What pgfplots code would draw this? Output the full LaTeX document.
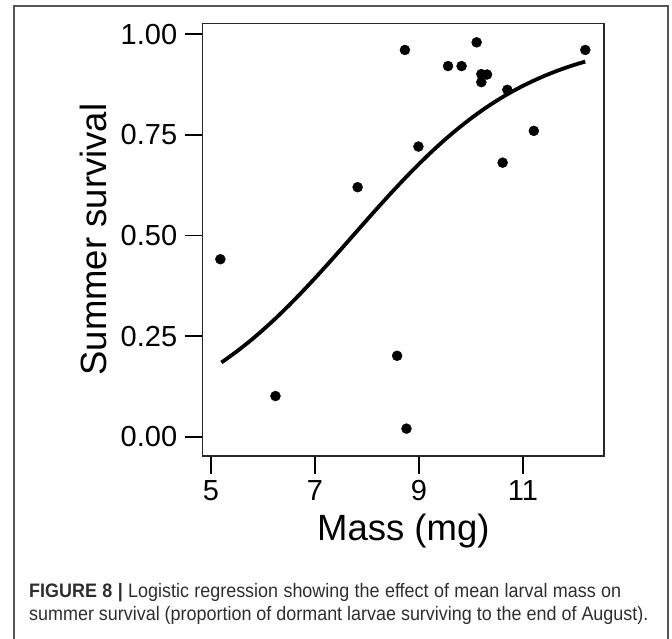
\documentclass[border=0pt]{standalone}
\usepackage{pgfplots}
\pgfplotsset{compat=1.18}
\usepackage{fontspec}
\setmainfont{Liberation Sans}
\newfontfamily\capfont[FakeStretch=0.92]{Liberation Sans}
\definecolor{framegray}{HTML}{555555}
\definecolor{captext}{HTML}{2E2E2E}
\begin{document}
\begin{tikzpicture}[x=1pt,y=1pt]
\useasboundingbox (0,0) rectangle (672,639);
\draw[framegray, line width=1.5pt] (14,-20) -- (14,633) -- (668,633) -- (668,-20);
\begin{axis}[
  scale only axis,
  width=401.3pt, height=432.7pt,
  at={(202.7pt,183pt)}, anchor=south west,
  xmin=4.84, xmax=12.56, ymin=-0.048, ymax=1.0273,
  xtick={5,7,9,11}, ytick={0,0.25,0.5,0.75,1},
  yticklabels={0.00,0.25,0.50,0.75,1.00},
  tick pos=left, tick align=outside,
  major tick length=18pt,
  tick style={line width=1.8pt, black},
  axis line style={line width=1.3pt, black!85},
  /pgf/number format/assume math mode=true,
  ticklabel style={font=\fontsize{29}{34}\selectfont},
  xticklabel style={yshift=-3pt},
  yticklabel style={xshift=-4pt},
  xlabel={Mass (mg)}, ylabel={Summer survival},
  label style={font=\fontsize{36.5}{42}\selectfont},
  xlabel style={at={(axis description cs:0.5,0)}, anchor=base, yshift=-84.7pt},
  ylabel style={at={(axis description cs:0,0.5)}, anchor=base, yshift=96pt},
  clip=false,
]
\addplot[black, line width=3.8pt, smooth] coordinates {
(5.20,0.1843) (5.50,0.2123) (5.75,0.2378) (6.00,0.2654) (6.25,0.2950)
(6.50,0.3264) (6.75,0.3595) (7.00,0.3939) (7.25,0.4294) (7.50,0.4657)
(7.75,0.5023) (8.00,0.5389) (8.25,0.5751) (8.50,0.6105) (8.75,0.6448)
(9.00,0.6776) (9.25,0.7088) (9.50,0.7382) (9.75,0.7655) (10.00,0.7908)
(10.25,0.8141) (10.50,0.8353) (10.75,0.8545) (11.00,0.8718) (11.25,0.8873)
(11.50,0.9012) (11.75,0.9135) (12.00,0.9244) (12.20,0.9322)
};
\addplot[only marks, mark=*, mark size=5pt, black] coordinates {
(5.18,0.441) (6.24,0.101) (7.82,0.620) (8.58,0.201) (8.73,0.961)
(8.76,0.020) (8.99,0.721) (9.56,0.921) (9.82,0.921) (10.11,0.980)
(10.20,0.901) (10.31,0.900) (10.20,0.881) (10.61,0.681) (10.70,0.862)
(11.21,0.760) (12.20,0.961)
};
\end{axis}
\node[anchor=base west, inner sep=0pt, text=captext] at (29,41.7)
  {\capfont\fontsize{19.5}{24}\selectfont\makebox[592pt][s]{\textbf{FIGURE 8 |} Logistic regression showing the effect of mean larval mass on}};
\node[anchor=base west, inner sep=0pt, text=captext] at (29,18)
  {\capfont\fontsize{19.5}{24}\selectfont summer survival (proportion of dormant larvae surviving to the end of August).};
\end{tikzpicture}
\end{document}
